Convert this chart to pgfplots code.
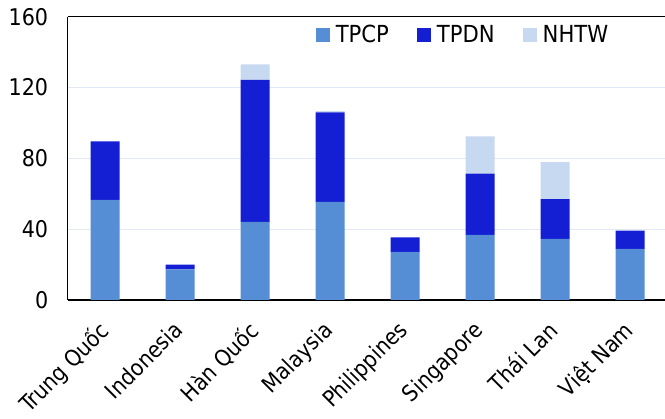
\documentclass[border=0pt]{standalone}
\usepackage{fontspec}
\setmainfont{DejaVu Sans Condensed}
\usepackage{pgfplots}
\pgfplotsset{compat=1.18}

\definecolor{tpcp}{RGB}{85,142,213}
\definecolor{tpdn}{RGB}{20,30,210}
\definecolor{nhtw}{RGB}{198,217,241}
\definecolor{gridc}{RGB}{226,233,244}

\begin{document}
\begin{tikzpicture}
\begin{axis}[
    scale only axis,
    width=597.3pt, height=283.3pt,
    ybar stacked,
    bar width=29pt,
    xmin=-0.5, xmax=7.464,
    ymin=0, ymax=160,
    ytick={0,40,80,120,160},
    xtick=data,
    xticklabels={Trung Quốc,Indonesia,Hàn Quốc,Malaysia,Philippines,Singapore,Thái Lan,Việt Nam},
    major tick length=0pt,
    axis x line*=box, axis y line*=left,
    axis line style={line width=1.5pt, black},
    ymajorgrids, grid style={gridc, line width=1pt},
    /pgf/number format/assume math mode=true,
    ticklabel style={font=\fontsize{23}{25}\selectfont},
    yticklabel style={xshift=-16pt},
    xticklabel style={rotate=45, anchor=north east, xshift=-16pt, yshift=-4.5pt,
        font=\fontsize{22.5}{25}\selectfont},
    legend columns=3,
    legend style={draw=none, fill=none, at={(0.41,0.985)}, anchor=north west,
        font=\fontsize{23.5}{25}\selectfont,
        /tikz/every odd column/.append style={column sep=4pt},
        /tikz/every even column/.append style={column sep=26pt}},
    legend image code/.code={\fill[#1] (0pt,-7pt) rectangle (14pt,7pt);},
]
\addplot[fill=tpcp, draw=none] coordinates {(0,56.6) (1,17.3) (2,44.1) (3,55.4) (4,27.2) (5,36.8) (6,34.5) (7,28.9)};
\addplot[fill=tpdn, draw=none] coordinates {(0,33.0) (1,2.7) (2,80.2) (3,50.6) (4,8.1) (5,34.5) (6,22.5) (7,10.3)};
\addplot[fill=nhtw, draw=none] coordinates {(0,0) (1,0) (2,8.8) (3,0.6) (4,0) (5,21.1) (6,20.9) (7,0)};
\legend{TPCP,TPDN,NHTW}
\end{axis}
\pgfresetboundingbox
\path (current axis.south west) ++(-67.7pt,-119pt) rectangle ++(665pt,419pt);
\end{tikzpicture}
\end{document}
